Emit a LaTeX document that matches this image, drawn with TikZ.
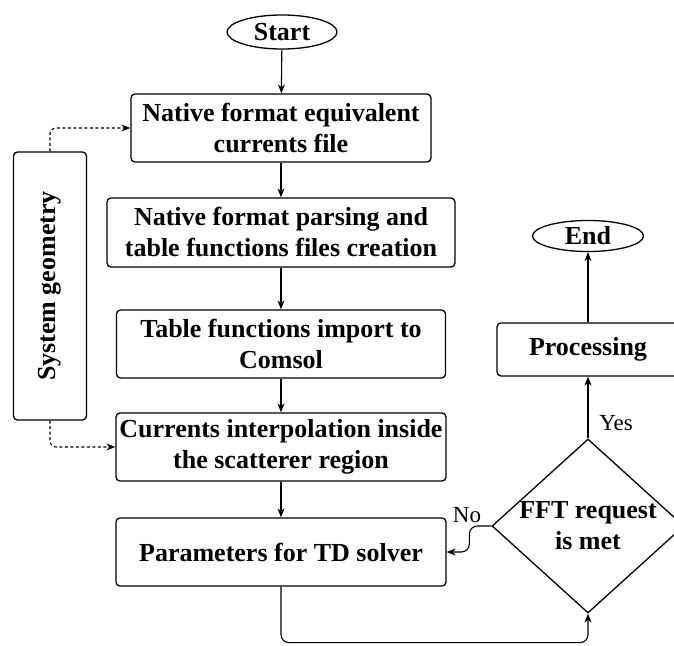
\documentclass[tikz,border=0pt]{standalone}
\usepackage{fontspec}
\setmainfont{Liberation Serif}
\usetikzlibrary{shapes.geometric,arrows.meta}
\begin{document}
\begin{tikzpicture}[x=1pt,y=-1pt,
  boxtxt/.style={font=\fontsize{26}{31}\selectfont\bfseries, align=center},
  procbox/.style={draw, line width=1.3pt, rounded corners=4pt, boxtxt, inner sep=0pt},
  term/.style={draw, ellipse, line width=1.3pt, boxtxt, inner sep=0pt},
  decide/.style={draw, diamond, line width=1.3pt, inner sep=0pt},
  lbl/.style={font=\fontsize{23}{27}\selectfont},
  arr/.style={line width=1.1pt, -{Stealth[length=9pt,width=7pt]}},
  dotarr/.style={line width=1.1pt, dash pattern=on 3pt off 2.5pt, rounded corners=6pt, -{Stealth[length=9pt,width=7pt]}}
]
\useasboundingbox (0,0) rectangle (674,645);
\fill[white] (0,0) rectangle (674,645);

\node[term, minimum width=110pt, minimum height=34pt] (start) at (282,32) {Start};
\node[procbox, minimum width=300pt, minimum height=68pt] (b1) at (281,128) {Native format equivalent\\currents file};
\node[procbox, minimum width=348pt, minimum height=69pt] (b2) at (281,232.5) {Native format parsing and\\table functions files creation};
\node[procbox, minimum width=329pt, minimum height=68pt] (b3) at (281,344) {Table functions import to\\Comsol};
\node[procbox, minimum width=330pt, minimum height=68pt] (b4) at (281,447) {Currents interpolation inside\\the scatterer region};
\node[procbox, minimum width=330pt, minimum height=68pt] (b5) at (281,552) {Parameters for TD solver};
\node[procbox, minimum width=73pt, minimum height=268pt] (sg) at (50,286) {};
\node[boxtxt, rotate=90] (sgtxt) at (sg.center) {System geometry};

\node[decide, minimum width=192pt, minimum height=174pt] (dia) at (588,526) {};
\node[boxtxt] (diatxt) at (dia.center) {FFT request\\is met};
\node[procbox, minimum width=182pt, minimum height=53pt] (proc) at (588,349.5) {Processing};
\node[term, minimum width=111pt, minimum height=31pt] (end) at (588,236) {End};

\draw[arr] (start) -- (b1);
\draw[arr] (b1) -- (b2);
\draw[arr] (b2) -- (b3);
\draw[arr] (b3) -- (b4);
\draw[arr] (b4) -- (b5);
\draw[arr] (dia.north) -- (proc.south);
\draw[arr] (proc.north) -- (end.south);
\draw[arr, rounded corners=8pt] (dia.west) -- ++(-22,0) |- (b5.east);
\draw[arr, rounded corners=8pt] (b5.south) -- ++(0,56) -| (dia.south);
\draw[dotarr] (sg.north) |- (b1.west);
\draw[dotarr] (sg.south) |- (b4.west);

\node[lbl] (yes) at (616,423) {Yes};
\node[lbl] (no) at (467,515) {No};
\end{tikzpicture}
\end{document}
